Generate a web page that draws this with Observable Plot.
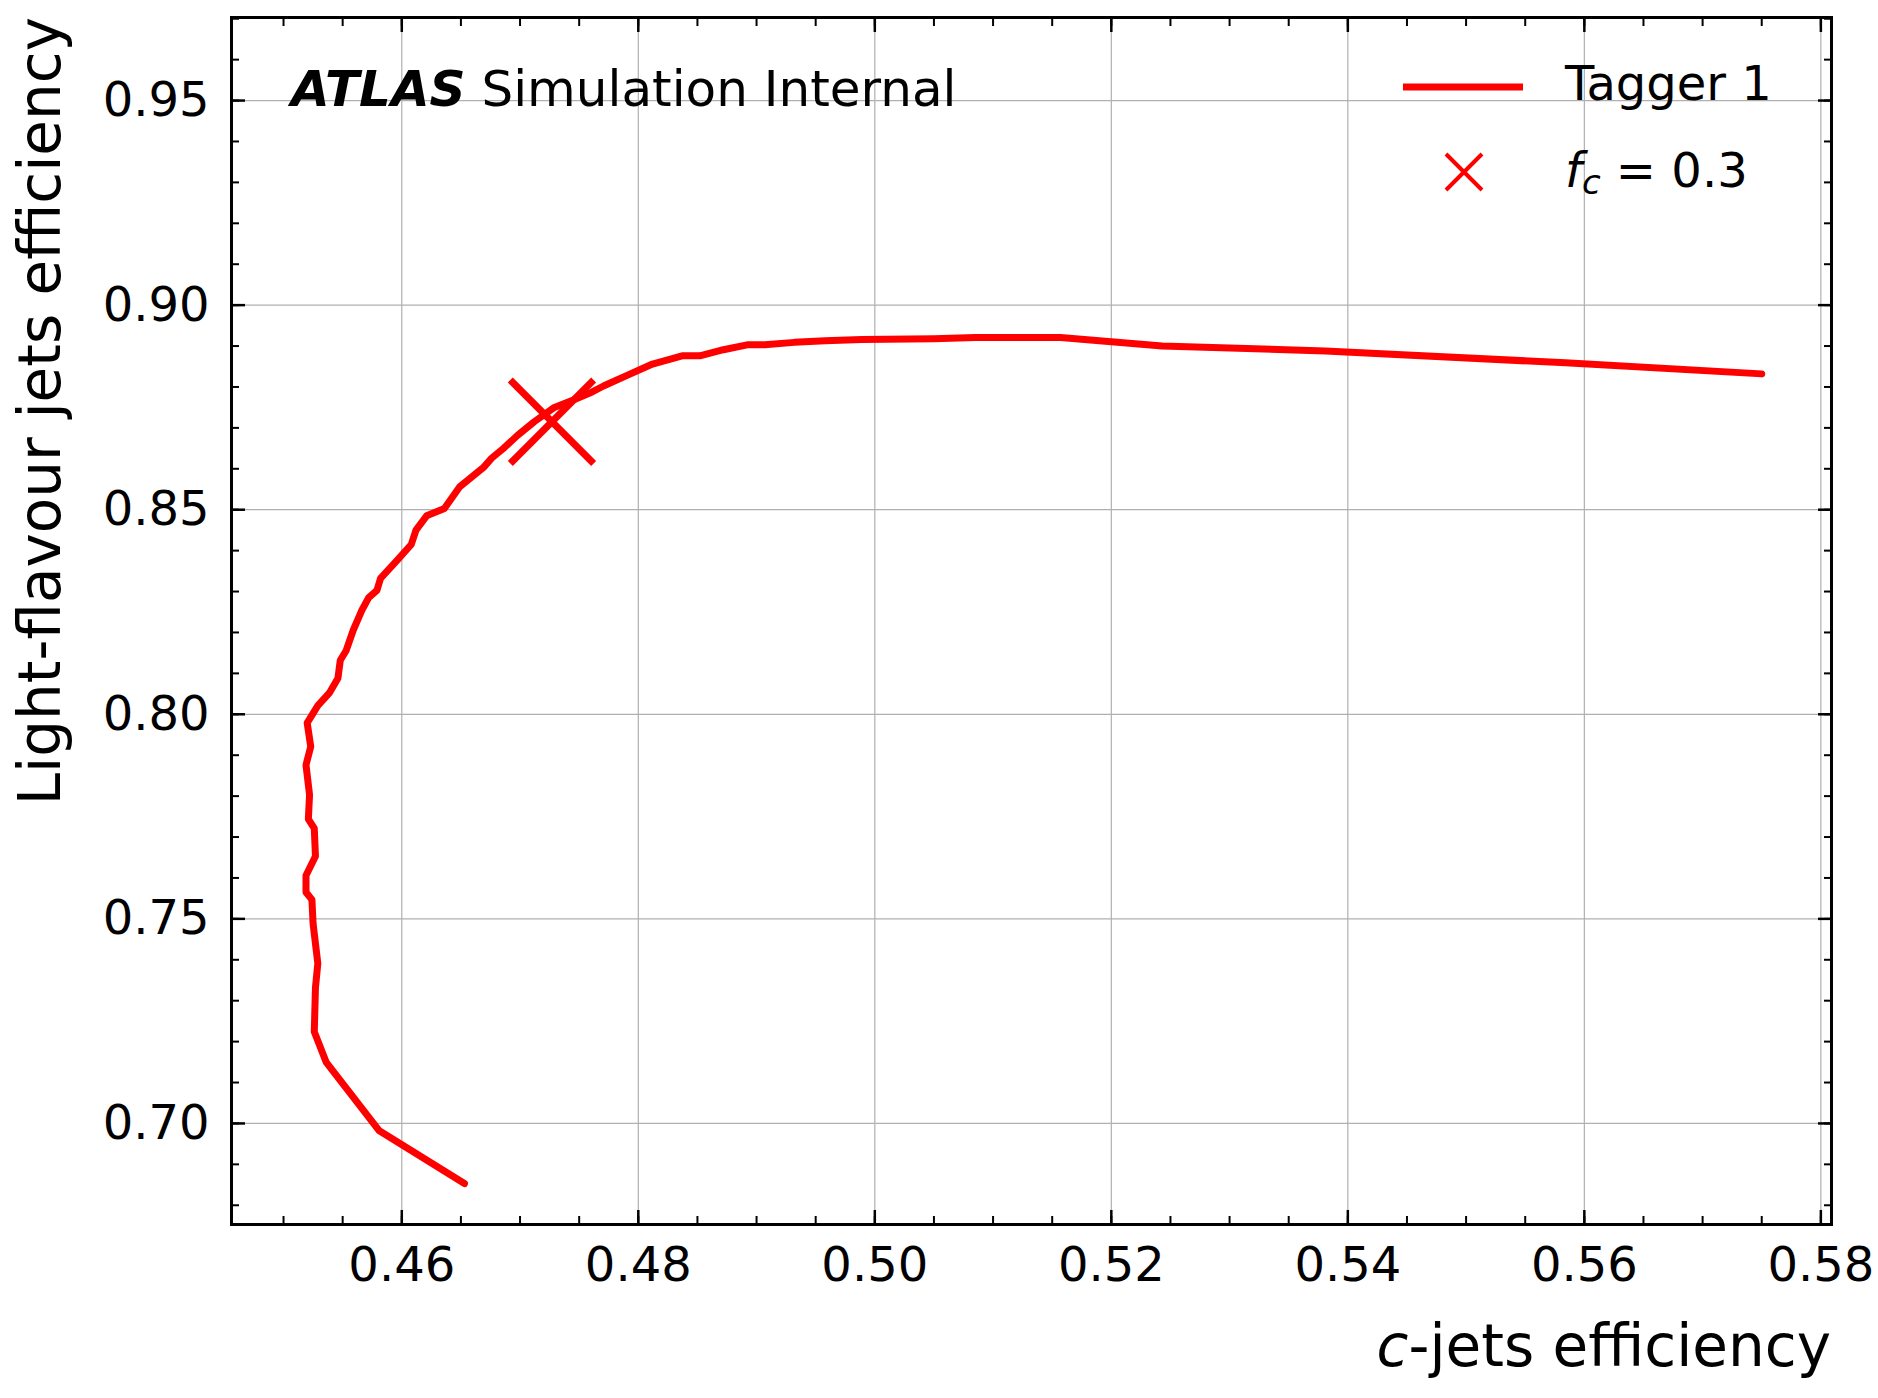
<!DOCTYPE html>
<html><head><meta charset="utf-8">
<script src="https://cdn.jsdelivr.net/npm/d3@7"></script>
<script src="https://cdn.jsdelivr.net/npm/@observablehq/plot@0.6"></script>
<style>body{margin:0;background:#fff}</style>
</head><body><div id="chart"></div>
<script>
const cEff = [0.4653,0.4581,0.4536,0.4526,0.4527,0.4529,0.4525,0.4524,0.4519,0.4519,0.4527,0.4526,0.4521,0.4522,0.4519,0.4523,0.4520,0.4529,0.4539,0.4546,0.4548,0.4553,0.4559,0.4566,0.4572,0.4579,0.4582,0.4596,0.4608,0.4612,0.4621,0.4636,0.4649,0.4669,0.4676,0.4686,0.4698,0.4712,0.4729,0.4745,0.4759,0.4771,0.4791,0.4812,0.4837,0.4852,0.4872,0.4892,0.4907,0.4932,0.4958,0.4989,0.5050,0.5085,0.5157,0.5243,0.5381,0.5584,0.5750]
const lEff = [0.6853,0.6982,0.7150,0.7224,0.7332,0.7391,0.7488,0.7547,0.7565,0.7606,0.7653,0.7721,0.7744,0.7803,0.7876,0.7921,0.7979,0.8021,0.8053,0.8088,0.8132,0.8156,0.8206,0.8253,0.8285,0.8303,0.8332,0.8376,0.8415,0.8450,0.8485,0.8503,0.8556,0.8603,0.8626,0.8650,0.8682,0.8715,0.8750,0.8768,0.8785,0.8803,0.8829,0.8856,0.8876,0.8876,0.8891,0.8903,0.8903,0.8909,0.8913,0.8916,0.8918,0.8921,0.8921,0.8900,0.8888,0.8859,0.8832]
const fcPoint = [{x: 0.4727, y: 0.8715}]
const xTicks = [0.46, 0.48, 0.50, 0.52, 0.54, 0.56, 0.58]
const yTicks = [0.70, 0.75, 0.80, 0.85, 0.90, 0.95]
const xMinor = d3.range(0, 28).map(i => +(0.445 + i * 0.005).toFixed(3)).filter(v => v > 0.4456 && v < 0.5809)
const yMinor = d3.range(0, 31).map(i => +(0.68 + i * 0.01).toFixed(2)).filter(v => v > 0.6753 && v < 0.9703)

const curve = cEff.map((x, i) => ({x, y: lEff[i]}))
const red = "#ff0000"
const font = "DejaVu Sans"
const none = () => ""

const chart = Plot.plot({
  width: 1878, height: 1398,
  marginLeft: 231, marginRight: 47, marginTop: 17, marginBottom: 174,
  style: {fontFamily: font, fontSize: "48px", color: "black", background: "white"},
  x: {domain: [0.4456, 0.5809]},
  y: {domain: [0.6753, 0.9703]},
  marks: [
    Plot.gridX(xTicks, {stroke: "#b0b0b0", strokeOpacity: 1, strokeWidth: 1.2}),
    Plot.gridY(yTicks, {stroke: "#b0b0b0", strokeOpacity: 1, strokeWidth: 1.2}),
    Plot.axisX(xTicks, {anchor: "bottom", tickSize: -14, strokeWidth: 2.5, tickPadding: 36, tickFormat: d3.format(".2f"), label: null, fontSize: 48}),
    Plot.axisX(xTicks, {anchor: "top", tickSize: -14, strokeWidth: 2.5, tickFormat: none, label: null}),
    Plot.axisX(xMinor, {anchor: "bottom", tickSize: -8, strokeWidth: 2, tickFormat: none, label: null}),
    Plot.axisX(xMinor, {anchor: "top", tickSize: -8, strokeWidth: 2, tickFormat: none, label: null}),
    Plot.axisY(yTicks, {anchor: "left", tickSize: -14, strokeWidth: 2.5, tickPadding: 36, tickFormat: d3.format(".2f"), label: null, fontSize: 48}),
    Plot.axisY(yTicks, {anchor: "right", tickSize: -14, strokeWidth: 2.5, tickFormat: none, label: null}),
    Plot.axisY(yMinor, {anchor: "left", tickSize: -8, strokeWidth: 2, tickFormat: none, label: null}),
    Plot.axisY(yMinor, {anchor: "right", tickSize: -8, strokeWidth: 2, tickFormat: none, label: null}),
    Plot.frame({stroke: "black", strokeWidth: 3}),
    Plot.line(curve, {x: "x", y: "y", stroke: red, strokeWidth: 7, strokeLinejoin: "round"}),
    Plot.dot(fcPoint, {x: "x", y: "y", symbol: "times", r: 38, stroke: red, strokeWidth: 7})
  ]
})
document.getElementById("chart").append(chart)

// labels and legend in pixel space
const svg = d3.select(chart)
const t = (x, y, s, opts = {}) => svg.append("text").attr("x", x).attr("y", y)
  .attr("font-family", font).attr("font-size", opts.size || 48)
  .attr("text-anchor", opts.anchor || "start").attr("dominant-baseline", "middle")
  .attr("transform", opts.rot ? `rotate(-90 ${x} ${y})` : null).text(s)

t(1831, 1350, "", {anchor: "end", size: 58}).call(s => {
  s.append("tspan").attr("font-style", "italic").text("c")
  s.append("tspan").text("-jets efficiency")
})
t(44, 17, "Light-flavour jets efficiency", {anchor: "end", size: 58, rot: true})
t(291, 92, "", {size: 50}).call(s => {
  s.append("tspan").attr("font-weight", "bold").attr("font-style", "italic").text("ATLAS")
  s.append("tspan").text(" Simulation Internal")
})
svg.append("line").attr("x1", 1403).attr("x2", 1523).attr("y1", 87).attr("y2", 87)
  .attr("stroke", red).attr("stroke-width", 7)
t(1565, 87, "Tagger 1", {size: 48})
svg.append("path").attr("d", "M1446,154L1482,190M1482,154L1446,190").attr("stroke", red).attr("stroke-width", 4)
t(1565, 174, "", {size: 48}).call(s => {
  s.append("tspan").attr("font-style", "italic").text("f")
  s.append("tspan").attr("font-style", "italic").attr("font-size", 34).attr("dy", 10).text("c")
  s.append("tspan").attr("dy", -10).text(" = 0.3")
})
</script></body></html>
